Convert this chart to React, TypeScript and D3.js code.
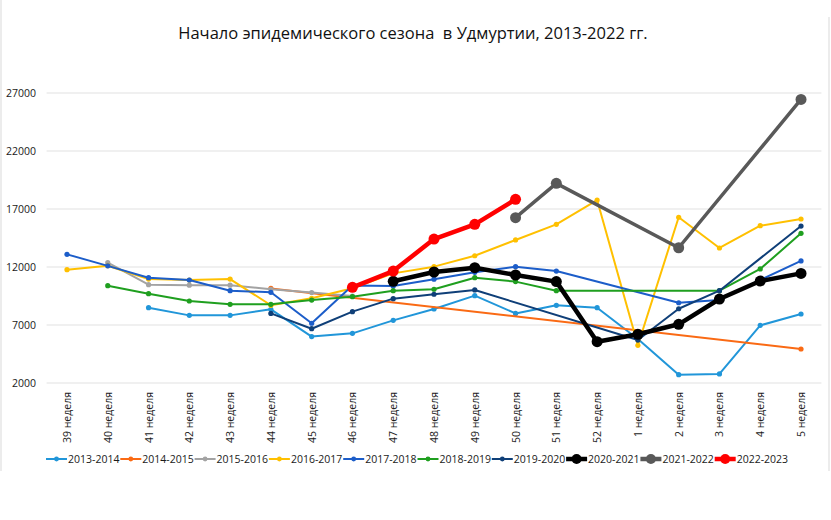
import React, { useEffect, useRef } from 'react';
import * as d3 from 'd3';

// weeks on the x axis
const weeks = [
  '39 неделя', '40 неделя', '41 неделя', '42 неделя', '43 неделя', '44 неделя', '45 неделя',
  '46 неделя', '47 неделя', '48 неделя', '49 неделя', '50 неделя', '51 неделя', '52 неделя',
  '1 неделя', '2 неделя', '3 неделя', '4 неделя', '5 неделя',
];

const yTicks = [2000, 7000, 12000, 17000, 22000, 27000];

const s2013 = [null, null, 8490, 7830, 7830, 8350, 6000, 6280, 7400, 8380, 9530, 8000, 8700, 8490, 5800, 2720, 2780, 6970, 7950];
const s2014 = [null, null, null, null, null, 10150, null, null, null, null, null, null, null, null, null, null, null, null, 4930];
const s2015 = [null, 12370, 10480, 10430, 10430, 10080, 9800, 9500, null, null, null, null, null, null, null, null, null, null, null];
const s2016 = [11770, 12110, 10960, 10880, 10960, 8700, 9300, 10160, 11450, 12030, 12970, 14330, 15680, 17770, 5250, 16290, 13640, 15560, 16140];
const s2017 = [13090, 12100, 11080, 10880, 9960, 9820, 7150, 10400, 10360, 10950, 11540, 12030, 11650, null, null, 8920, 9160, 10880, 12520];
const s2018 = [null, 10390, 9700, 9070, 8780, 8780, 9150, 9440, 9960, 10080, 11080, 10740, 9960, null, null, null, 9960, 11830, 14900];
const s2019 = [null, null, null, null, null, 8000, 6680, 8150, 9270, 9650, 10020, null, null, null, 5700, 8400, 9960, null, 15530];
const s2020 = [null, null, null, null, null, null, null, null, 10770, 11570, 11940, 11310, 10740, 5560, 6200, 7060, 9240, 10790, 11450];
const s2021 = [null, null, null, null, null, null, null, null, null, null, null, 16250, 19210, null, null, 13660, null, null, 26450];
const s2022 = [null, null, null, null, null, null, null, 10250, 11650, 14410, 15680, 17830, null, null, null, null, null, null, null];

const seasons = ['2013-2014', '2014-2015', '2015-2016', '2016-2017', '2017-2018', '2018-2019', '2019-2020', '2020-2021', '2021-2022', '2022-2023'];
const values = [s2013, s2014, s2015, s2016, s2017, s2018, s2019, s2020, s2021, s2022];
const colors = ['#2196d9', '#fa6a14', '#a3a3a3', '#ffc000', '#1c5dc9', '#1f9f1f', '#0f3f78', '#000000', '#595959', '#ff0000'];
const thick = [false, false, false, false, false, false, false, true, true, true];

const App = () => {
  const chartRef = useRef<SVGSVGElement>(null);

  useEffect(() => {
    const svg = d3.select(chartRef.current);
    svg.selectAll('*').remove();
    const font = 'Open Sans, sans-serif';

    const x = d3.scaleBand().domain(weeks).range([46.6, 821.4]);
    const y = d3.scaleLinear().domain([2000, 27000]).range([383, 93]);
    const cx = (w: string) => (x(w) as number) + x.bandwidth() / 2;

    // chart frame edges
    svg.append('line').attr('x1', 1).attr('x2', 1).attr('y1', 0).attr('y2', 471).attr('stroke', '#d9d9d9');
    svg.append('line').attr('x1', 829).attr('x2', 829).attr('y1', 17).attr('y2', 471).attr('stroke', '#d9d9d9');

    // title
    svg.append('text')
      .text('Начало эпидемического сезона  в Удмуртии, 2013-2022 гг.')
      .attr('x', 413).attr('y', 39)
      .attr('text-anchor', 'middle')
      .attr('font-family', font).attr('font-size', '16.5px')
      .attr('fill', '#111')
      .style('white-space', 'pre');

    // gridlines + y labels
    svg.append('g').selectAll('line').data(yTicks).enter().append('line')
      .attr('x1', 46.6).attr('x2', 821.4)
      .attr('y1', (d) => y(d)).attr('y2', (d) => y(d))
      .attr('stroke', '#e2e2e2').attr('stroke-width', 1.2);

    svg.append('g').selectAll('text').data(yTicks).enter().append('text')
      .text((d) => d)
      .attr('x', 36).attr('y', (d) => y(d) + 4)
      .attr('text-anchor', 'end')
      .attr('font-family', font).attr('font-size', '10.5px')
      .attr('fill', '#1a1a1a');

    // x labels, rotated
    svg.append('g').selectAll('text').data(weeks).enter().append('text')
      .text((d) => d)
      .attr('transform', (d) => `translate(${cx(d) + 4},392) rotate(-90)`)
      .attr('text-anchor', 'end')
      .attr('font-family', font).attr('font-size', '10.5px')
      .attr('fill', '#1a1a1a');

    // series
    values.forEach((vals, i) => {
      const pts = weeks
        .map((w, j) => ({ w, v: vals[j] }))
        .filter((p) => p.v !== null) as { w: string; v: number }[];
      const line = d3.line<{ w: string; v: number }>().x((p) => cx(p.w)).y((p) => y(p.v));
      const g = svg.append('g');
      g.append('path')
        .attr('d', line(pts))
        .attr('fill', 'none')
        .attr('stroke', colors[i])
        .attr('stroke-width', thick[i] ? (i === 8 ? 3.5 : 4.5) : 2)
        .attr('stroke-linejoin', 'round');
      g.selectAll('circle').data(pts).enter().append('circle')
        .attr('cx', (p) => cx(p.w)).attr('cy', (p) => y(p.v))
        .attr('r', thick[i] ? 5.5 : 2.6)
        .attr('fill', colors[i]);
    });

    // legend
    const lg = svg.append('g').selectAll('g').data(seasons).enter().append('g')
      .attr('transform', (d, i) => `translate(${46 + i * 74.3},459)`);
    lg.append('line')
      .attr('x1', 0).attr('x2', 21).attr('y1', 0).attr('y2', 0)
      .attr('stroke', (d, i) => colors[i])
      .attr('stroke-width', (d, i) => (thick[i] ? 4.5 : 2));
    lg.append('circle')
      .attr('cx', 10.5).attr('cy', 0)
      .attr('r', (d, i) => (thick[i] ? 5 : 2.4))
      .attr('fill', (d, i) => colors[i]);
    lg.append('text')
      .text((d) => d)
      .attr('x', 22).attr('y', 4)
      .attr('font-family', font).attr('font-size', '10.5px')
      .attr('fill', '#1a1a1a');
  }, []);

  return (
    <div style={{ position: 'absolute', left: 0, top: 0 }}>
      <svg ref={chartRef} width={831} height={520} style={{ display: 'block', background: '#fff' }} />
    </div>
  );
};

export default App;
